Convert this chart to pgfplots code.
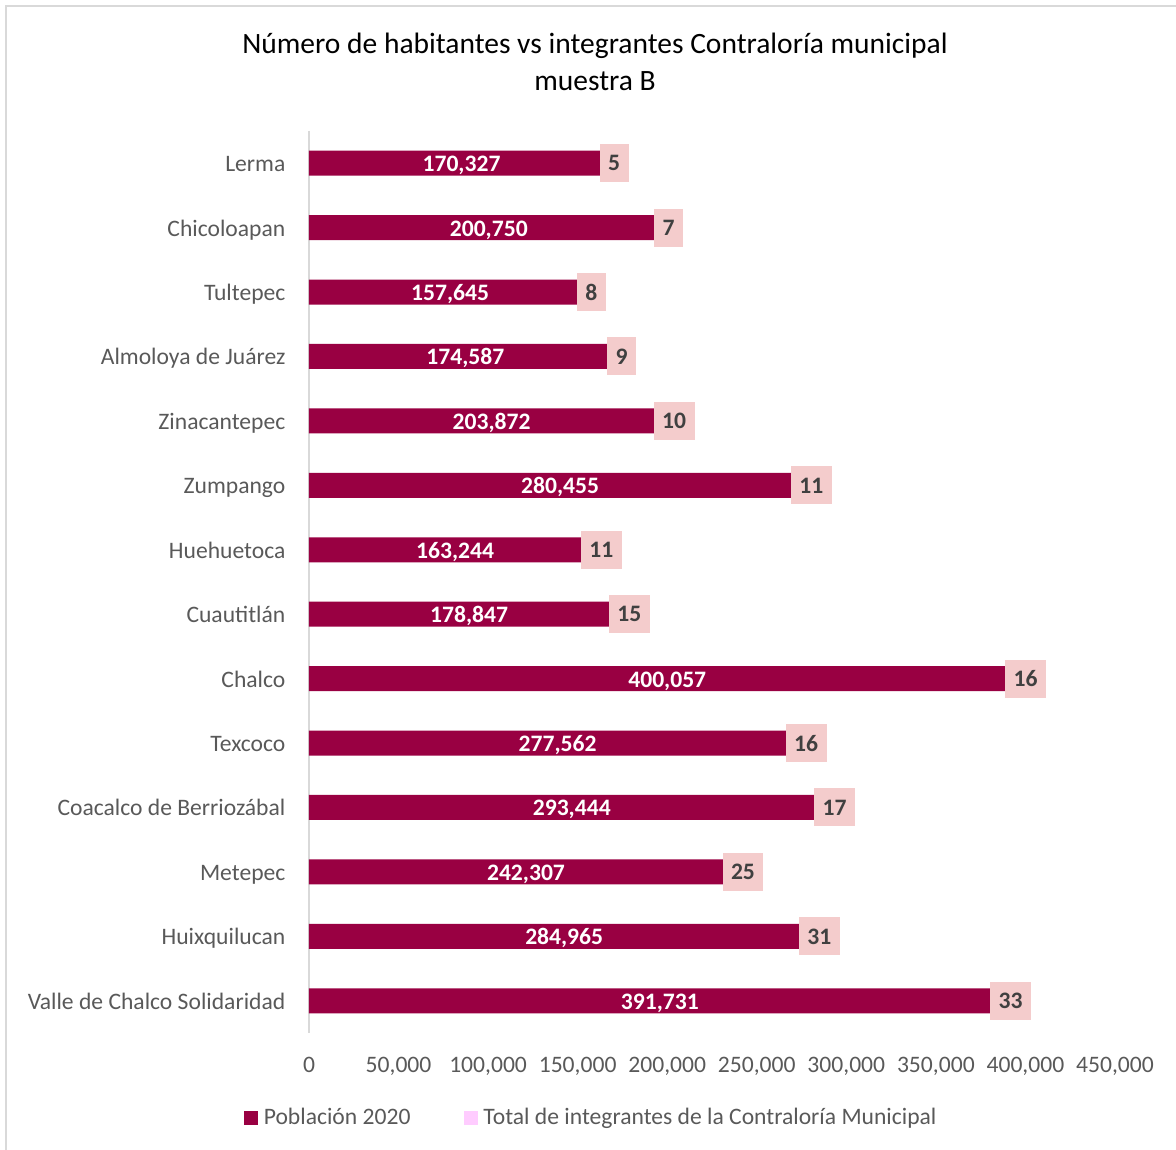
\documentclass[border=0pt]{standalone}
\usepackage{fontspec}
\setmainfont{Carlito}
\usepackage{pgfplots}
\usepackage{pgfplotstable}
\pgfplotsset{compat=1.18}
\definecolor{barcolor}{HTML}{990042}
\definecolor{pinkbox}{HTML}{F4CCCC}
\definecolor{legpink}{HTML}{FFCCFF}
\definecolor{textgray}{HTML}{595959}
\definecolor{labgray}{HTML}{404040}
\definecolor{axisgray}{HTML}{D9D9D9}
\pgfplotstableread{
idx pop int lab
0 170327 5 170,327
1 200750 7 200,750
2 157645 8 157,645
3 174587 9 174,587
4 203872 10 203,872
5 280455 11 280,455
6 163244 11 163,244
7 178847 15 178,847
8 400057 16 400,057
9 277562 16 277,562
10 293444 17 293,444
11 242307 25 242,307
12 284965 31 284,965
13 391731 33 391,731
}\data
\begin{document}
\begin{tikzpicture}[x=0.4237pt,y=0.4237pt]
\useasboundingbox (0,0) rectangle (1176,1150);
\draw[axisgray, line width=0.75pt] (5.8,0) -- (5.8,1144.2) -- (1176,1144.2);
\node[anchor=base, font=\fontsize{12.5}{15}\selectfont, text=black] at (595,1096.5) {Número de habitantes vs integrantes Contraloría municipal};
\node[anchor=base, font=\fontsize{12.5}{15}\selectfont, text=black] at (595,1059.5) {muestra B};
\begin{axis}[
  at={(130.92pt,49.57pt)}, anchor=south west,
  scale only axis, width=341.5pt, height=382.2pt,
  xmin=0, xmax=450000, ymin=-0.5, ymax=13.5, y dir=reverse,
  clip=false,
  xtick={0,50000,100000,150000,200000,250000,300000,350000,400000,450000},
  xticklabels={0,{50,000},{100,000},{150,000},{200,000},{250,000},{300,000},{350,000},{400,000},{450,000}},
  scaled x ticks=false,
  ytick={0,...,13},
  yticklabels={Lerma,Chicoloapan,Tultepec,{Almoloya de Juárez},Zinacantepec,Zumpango,Huehuetoca,Cuautitlán,Chalco,Texcoco,{Coacalco de Berriozábal},Metepec,Huixquilucan,{Valle de Chalco Solidaridad}},
  major tick length=0pt, tick style={draw=none},
  axis x line*=bottom, axis y line*=left,
  x axis line style={draw=none},
  y axis line style={draw=axisgray, line width=0.75pt},
  xticklabel style={anchor=north, inner sep=0pt, yshift=-10pt, font=\fontsize{10}{12}\selectfont, text=textgray},
  yticklabel style={anchor=base east, inner sep=0pt, xshift=-9.8pt, yshift=-3.6pt, font=\fontsize{10}{12}\selectfont, text=textgray},
  legend image code/.code={\fill[#1] (0pt,-2.95pt) rectangle (5.9pt,2.95pt);},
  legend style={at={(-0.08065,-0.0945)}, anchor=west, draw=none, fill=none,
    inner sep=0pt, outer sep=0pt, font=\fontsize{10}{12}\selectfont, text=textgray,
    nodes={inner sep=0pt},
    /tikz/every odd column/.append style={column sep=2.5pt},
    /tikz/every even column/.append style={column sep=22.5pt}},
  legend columns=2,
]
\addplot[xbar, bar shift=0pt, bar width=10.59pt, fill=barcolor, draw=none, forget plot]
  table[x=pop, y=idx] {\data};
\addplot[xbar, bar shift=0pt, bar width=0pt, draw=none, fill=none, forget plot,
  point meta=explicit symbolic, nodes near coords,
  nodes near coords style={anchor=base, yshift=-3.6pt, inner sep=0pt, font=\fontsize{10}{12}\selectfont\bfseries, text=white}]
  table[x expr=\thisrow{pop}/2, y=idx, meta=lab] {\data};
\addplot[xbar, bar shift=0pt, bar width=0pt, draw=none, fill=none, forget plot,
  point meta=explicit symbolic, nodes near coords,
  nodes near coords style={anchor=center, fill=pinkbox, text=labgray, inner xsep=3.6pt, inner ysep=0pt, minimum height=16.1pt, font=\fontsize{10}{12}\selectfont\bfseries}]
  table[x=pop, y=idx, meta=int] {\data};
\addlegendimage{fill=barcolor, draw=none}
\addlegendentry{Población 2020}
\addlegendimage{fill=legpink, draw=none}
\addlegendentry{Total de integrantes de la Contraloría Municipal}
\end{axis}
\end{tikzpicture}
\end{document}
